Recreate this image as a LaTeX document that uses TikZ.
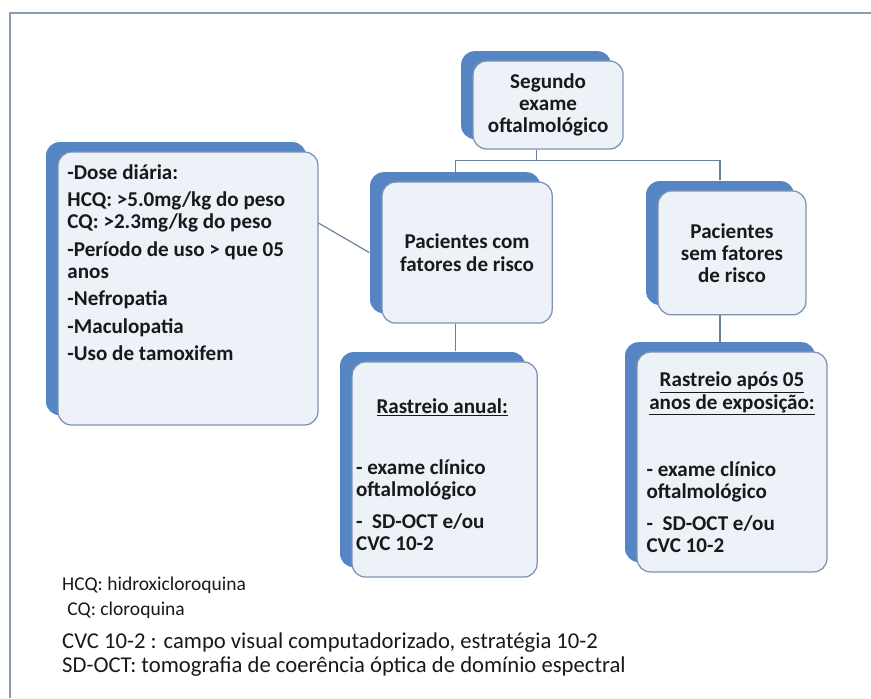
\documentclass[tikz,border=0pt]{standalone}
\usepackage{fontspec}
\setmainfont{Carlito}
\usepackage{xcolor}
\usetikzlibrary{calc, positioning, shadows}
\definecolor{cardfill}{HTML}{EDF1F8}
\definecolor{cardline}{HTML}{7D93B2}
\definecolor{cardblue}{HTML}{5585C3}
\definecolor{linkgray}{HTML}{6A7F99}
\definecolor{framegray}{HTML}{8A9BB5}

\begin{document}
\begin{tikzpicture}[
  every node/.style={font=\fontsize{20}{21}\selectfont\bfseries, text=black!90, inner sep=0pt},
  card/.style={draw=cardline, line width=1.2pt, fill=cardfill, rounded corners=0.45cm,
    general shadow={fill=cardblue, shadow xshift=-0.4cm, shadow yshift=0.33cm}},
  note/.style={font=\fontsize{18.5}{23.5}\selectfont, anchor=west, align=left},
  link/.style={draw=linkgray, line width=1.1pt}]
  \useasboundingbox (0,0) rectangle (29.033,-23.267);
  \draw[framegray, line width=1.6pt] (0.333,-23.267) -- (0.333,-0.433) -- (29.033,-0.433);

  % hierarchy boxes
  \node[card, minimum width=5cm, minimum height=2.93cm, align=center] (exam) at (18.27,-3.5) {Segundo\\exame\\oftalmológico};
  \node[card, minimum width=5.67cm, minimum height=4.7cm, align=center] (com) at (15.57,-8.42) {Pacientes com\\fatores de risco};
  \node[card, minimum width=4.93cm, minimum height=4.13cm, align=center] (sem) at (24.4,-8.43) {Pacientes\\sem fatores\\de risco};
  \node[card, minimum width=8.667cm, minimum height=9.1cm] (risk) at (6.267,-9.617) {};
  \node[anchor=north west, align=left] (risk-text) at ($(risk.north west)+(0.33,-0.43)$) {-Dose diária:\\[5pt]HCQ: >5.0mg/kg do peso\\CQ: >2.3mg/kg do peso\\[5pt]-Período de uso > que 05\\anos\\[5pt]-Nefropatia\\[5pt]-Maculopatia\\[5pt]-Uso de tamoxifem};
  \node[card, minimum width=6.17cm, minimum height=7.17cm] (annual) at (14.82,-15.65) {};
  \node (annual-head) at ($(annual.north)+(-0.08,-1.53)$) {\underline{Rastreio anual:}};
  \node[anchor=north west, align=left] (annual-list) at ($(annual.north west)+(0.15,-3.27)$) {- exame clínico\\oftalmológico\\[9pt]-\ \ SD-OCT e/ou\\CVC 10-2};
  \node[card, minimum width=6.33cm, minimum height=7.33cm] (after) at (24.4,-15.4) {};
  \node[align=center] (after-head) at ($(after.north)+(0,-1.4)$) {\underline{Rastreio após 05}\\\underline{anos de exposição:}};
  \node[anchor=north west, align=left] (after-list) at ($(after.north west)+(0.33,-3.67)$) {- exame clínico\\oftalmológico\\[9pt]-\ \ SD-OCT e/ou\\CVC 10-2};

  % connectors
  \draw[link] ($(exam.south)+(-0.4,0)$) -- ++(0,-0.37) coordinate (split);
  \draw[link] (split) -| ($(com.north)+(-0.4,0.33)$);
  \draw[link] (split) -| ($(sem.north)+(-0.4,0.33)$);
  \coordinate (com-out) at ($(com.south)+(-0.4,0)$);
  \coordinate (annual-in) at ($(annual.north)+(0,0.33)$);
  \draw[link] (com-out) -- (com-out |- annual-in);
  \coordinate (sem-out) at ($(sem.south)+(-0.4,0)$);
  \coordinate (after-in) at ($(after.north)+(0,0.33)$);
  \draw[link] (sem-out) -- (sem-out |- after-in);
  \draw[link] ($(risk.east)+(0,2.18)$) -- ($(com.west)+(-0.4,0)$);

  % abbreviations
  \node[note] (abbr) at (2.067,-19.92) {HCQ: hidroxicloroquina\\\hspace{5pt}CQ: cloroquina};
  \node[note, font=\fontsize{21.5}{22.8}\selectfont] (gloss) at (2.067,-21.83) {CVC 10-2 : campo visual computadorizado, estratégia 10-2\\SD-OCT: tomografia de coerência óptica de domínio espectral};
\end{tikzpicture}
\end{document}
